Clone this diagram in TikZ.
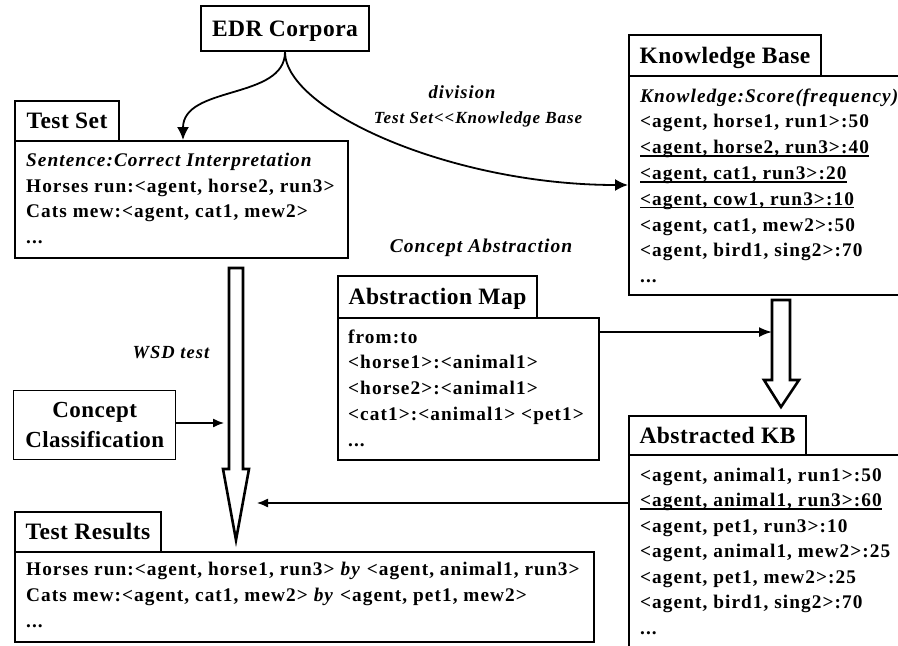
\documentclass[tikz,border=0pt]{standalone}
\usepackage{fontspec}
\setmainfont{Liberation Serif}
\newfontfamily\bodyfont{Liberation Serif}[LetterSpace=5.5]
\newfontfamily\titlefont{Liberation Serif}[LetterSpace=2]
\usetikzlibrary{arrows.meta,calc}
\tikzset{
  boxb/.style={draw, line width=2pt, anchor=north west, inner sep=0pt},
  ttl/.style={boxb, font=\titlefont\bfseries\fontsize{23.5}{26}\selectfont, text height=15.8pt, text depth=0pt},
  ccbox/.style={draw, line width=1.4pt, anchor=north west, inner sep=0pt, align=center,
     font=\titlefont\bfseries\fontsize{23}{30}\selectfont},
  ln/.style={anchor=base west, inner sep=0pt, font=\bodyfont\bfseries\fontsize{19.3}{25.7}\selectfont},
  lbl/.style={anchor=base, inner sep=0pt, font=\bodyfont\bfseries\itshape\fontsize{18.5}{25.7}\selectfont},
  ul/.style={line width=1.4pt},
  conn/.style={line width=1.8pt, -{Latex[length=13pt,width=12pt]}},
  thinarrow/.style={line width=1.3pt, -{Latex[length=11pt,width=9pt]}},
  hollow/.style={line width=2.6pt, fill=white, line join=miter},
}
\begin{document}
\begin{tikzpicture}[x=1pt,y=-1pt]
\useasboundingbox (0,0) rectangle (898,646);
\clip (0,0) rectangle (898,646);

% EDR Corpora
\node[ttl, minimum width=168pt, minimum height=45pt] (edr) at (200,5) {EDR Corpora};

% Test Set
\node[ttl, minimum width=104pt, minimum height=40pt] (tst) at (14,100) {Test Set};
\node[boxb, minimum width=333pt, minimum height=117pt] (tsb) at (14,140) {};
\node[ln] (ts1) at (26,166) {\textit{Sentence:Correct Interpretation}};
\node[ln] (ts2) at (26,192) {Horses run:<agent, horse2, run3>};
\node[ln] (ts3) at (26,217.5) {Cats mew:<agent, cat1, mew2>};
\node[ln] (ts4) at (26,243) {...};

% Knowledge Base
\node[ttl, minimum width=192pt, minimum height=41pt] (kbt) at (628,34) {Knowledge Base};
\node[boxb, minimum width=290pt, minimum height=219pt] (kbb) at (628,75) {};
\node[ln] (kb1) at (640,102) {\textit{Knowledge:Score(frequency)}};
\node[ln] (kb2) at (640,127.8) {<agent, horse1, run1>:50};
\node[ln] (kb3) at (640,153.6) {<agent, horse2, run3>:40};
\node[ln] (kb4) at (640,179.4) {<agent, cat1, run3>:20};
\node[ln] (kb5) at (640,205.2) {<agent, cow1, run3>:10};
\node[ln] (kb6) at (640,231) {<agent, cat1, mew2>:50};
\node[ln] (kb7) at (640,256.8) {<agent, bird1, sing2>:70};
\node[ln] (kb8) at (640,282.6) {...};
\foreach \n in {kb3,kb4,kb5}
  \draw[ul] ([yshift=-2.5pt]\n.base west) -- ([yshift=-2.5pt]\n.base east);

% Abstraction Map
\node[ttl, minimum width=199pt, minimum height=42pt] (amt) at (337,275) {Abstraction Map};
\node[boxb, minimum width=261pt, minimum height=142pt] (amb) at (337,317) {};
\node[ln] (am1) at (348,343) {from:to};
\node[ln] (am2) at (348,368.8) {<horse1>:<animal1>};
\node[ln] (am3) at (348,394.6) {<horse2>:<animal1>};
\node[ln] (am4) at (348,420.4) {<cat1>:<animal1> <pet1>};
\node[ln] (am5) at (348,446.2) {...};

% Abstracted KB
\node[ttl, minimum width=177pt, minimum height=39pt] (akt) at (628,415) {Abstracted KB};
\node[boxb, minimum width=290pt, minimum height=210pt] (akb) at (628,454) {};
\node[ln] (ak1) at (640,481) {<agent, animal1, run1>:50};
\node[ln] (ak2) at (640,506.5) {<agent, animal1, run3>:60};
\node[ln] (ak3) at (640,532) {<agent, pet1, run3>:10};
\node[ln] (ak4) at (640,557.5) {<agent, animal1, mew2>:25};
\node[ln] (ak5) at (640,583) {<agent, pet1, mew2>:25};
\node[ln] (ak6) at (640,608.5) {<agent, bird1, sing2>:70};
\node[ln] (ak7) at (640,634) {...};
\draw[ul] ([yshift=-2.5pt]ak2.base west) -- ([yshift=-2.5pt]ak2.base east);

% Test Results
\node[ttl, minimum width=146pt, minimum height=40pt] (trt) at (14,511) {Test Results};
\node[boxb, minimum width=579pt, minimum height=90pt] (trb) at (14,551) {};
\node[ln] (tr1) at (26,575.5) {Horses run:<agent, horse1, run3> \textit{by} <agent, animal1, run3>};
\node[ln] (tr2) at (26,601) {Cats mew:<agent, cat1, mew2> \textit{by} <agent, pet1, mew2>};
\node[ln] (tr3) at (26,627) {...};

% Concept Classification
\node[ccbox, minimum width=162pt, minimum height=69pt] (cc) at (13,390) {Concept\\Classification};

% labels
\node[lbl] (ldiv) at (462,98) {division};
\node[lbl, font=\bodyfont\bfseries\itshape\fontsize{17}{20}\selectfont] (ltk) at (478,123) {Test Set<{}<Knowledge Base};
\node[lbl, font=\bodyfont\bfseries\itshape\fontsize{19.5}{20}\selectfont] (lca) at (481,252) {Concept Abstraction};
\node[lbl] (lwsd) at (171,358) {WSD test};

% hollow arrows
\draw[hollow] (229,268) -- (243,268) -- (243,469) -- (249,469) -- (236,540) -- (223,469) -- (229,469) -- cycle;
\draw[hollow] (772,300) -- (790,300) -- (790,380) -- (799,380) -- (781,407) -- (764,380) -- (772,380) -- cycle;

% coordinates for connector ends
\coordinate (tsin) at (183,140);
\coordinate (kbin) at (628,185);
\coordinate (ccout) at (175,423);
\coordinate (cctip) at (224,423);
\coordinate (akout) at (628,503);
\coordinate (aktip) at (257,503);
\coordinate (amout) at (598,332);
\coordinate (amtip) at (772,332);

% connectors
\draw[conn] (edr.south) .. controls (285,100) and (183,85) .. (tsin);
\draw[conn] (edr.south) .. controls (285,110) and (450,185) .. (kbin);
\draw[thinarrow] (ccout) -- (cctip);
\draw[thinarrow] (akout) -- (aktip);
\draw[line width=1.8pt, -{Latex[length=13pt,width=10pt]}] (amout) -- (amtip);
\end{tikzpicture}
\end{document}
